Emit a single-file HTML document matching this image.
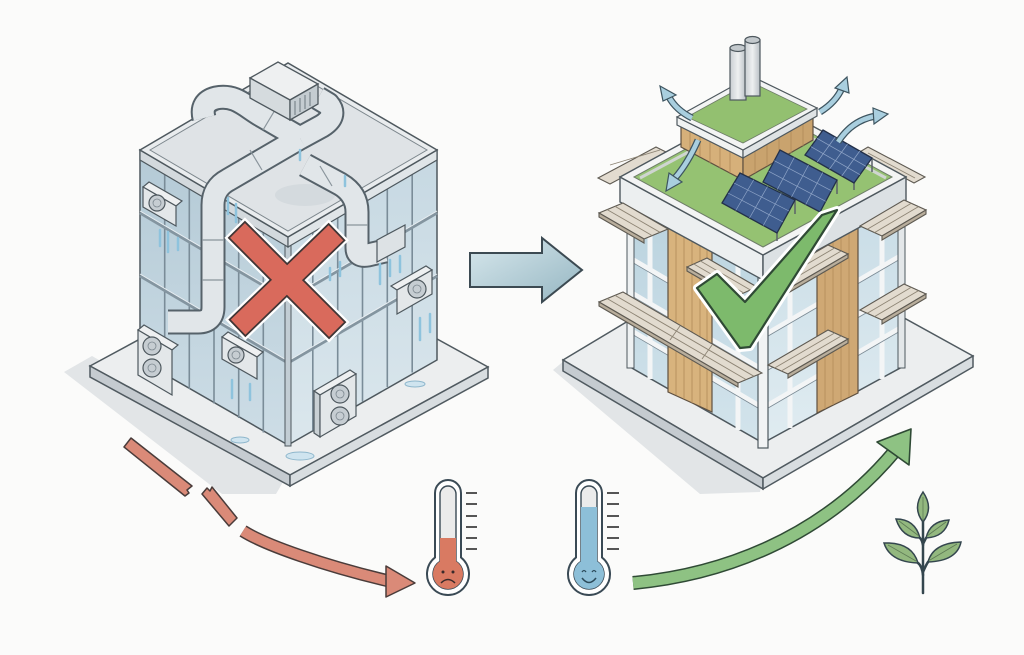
<!DOCTYPE html>
<html><head><meta charset="utf-8"><style>
html,body{margin:0;padding:0;background:#fbfbfa;}
svg{display:block;}
</style></head><body>
<svg width="1024" height="655" viewBox="0 0 1024 655" xmlns="http://www.w3.org/2000/svg">
<defs>
<linearGradient id="arrowG" x1="0" y1="0" x2="1" y2="1"><stop offset="0" stop-color="#d8e8ed"/><stop offset="1" stop-color="#95b6c2"/></linearGradient>
<linearGradient id="glL" x1="0" y1="0" x2="0" y2="1"><stop offset="0" stop-color="#b4cad6"/><stop offset="1" stop-color="#cddde6"/></linearGradient>
<linearGradient id="glR" x1="0" y1="0" x2="0" y2="1"><stop offset="0" stop-color="#c6d8e2"/><stop offset="1" stop-color="#dbe7ed"/></linearGradient>
<linearGradient id="gl2L" x1="0" y1="0" x2="0" y2="1"><stop offset="0" stop-color="#b9d2de"/><stop offset="1" stop-color="#d3e4ec"/></linearGradient>
<linearGradient id="gl2R" x1="0" y1="0" x2="0" y2="1"><stop offset="0" stop-color="#c8dce6"/><stop offset="1" stop-color="#e0ecf1"/></linearGradient>
<linearGradient id="cyl" x1="0" y1="0" x2="1" y2="0"><stop offset="0" stop-color="#c9ced2"/><stop offset=".5" stop-color="#eef0f1"/><stop offset="1" stop-color="#b9c0c5"/></linearGradient>
</defs>
<rect width="1024" height="655" fill="#fbfbfa"/>

<!-- ============ LEFT BUILDING ============ -->
<polygon points="64,372 92,356 290,470 276,494 222,494" fill="#e2e5e7"/>
<polygon points="90,366 290,258 488,367 290,475" fill="#eceeef" stroke="#505a60" stroke-width="1.5"/>
<polygon points="90,366 290,475 290,486 90,377" fill="#c5cbd0" stroke="#505a60" stroke-width="1.5"/>
<polygon points="290,475 488,367 488,378 290,486" fill="#d8dde0" stroke="#505a60" stroke-width="1.5"/>
<ellipse cx="300" cy="456" rx="14" ry="4" fill="#cfe4ef" stroke="#8fb7cc" stroke-width="1"/>
<ellipse cx="415" cy="384" rx="10" ry="3" fill="#cfe4ef" stroke="#8fb7cc" stroke-width="1"/>
<ellipse cx="240" cy="440" rx="9" ry="3" fill="#cfe4ef" stroke="#8fb7cc" stroke-width="1"/>

<polygon points="140,150 288,237 288,445 140,360" fill="url(#glL)" stroke="#4e585e" stroke-width="1.5"/>
<polygon points="288,237 437,150 437,360 288,445" fill="url(#glR)" stroke="#4e585e" stroke-width="1.5"/>
<g stroke="#7a8c98" stroke-width="1.6">
<line x1="164.7" y1="164.5" x2="164.7" y2="374.5"/><line x1="189.3" y1="179" x2="189.3" y2="389"/>
<line x1="214" y1="193.5" x2="214" y2="403.5"/><line x1="238.7" y1="208" x2="238.7" y2="418"/>
<line x1="263.3" y1="222.5" x2="263.3" y2="432.5"/>
<line x1="312.8" y1="222.5" x2="312.8" y2="430.5"/><line x1="337.7" y1="208" x2="337.7" y2="416"/>
<line x1="362.5" y1="193.5" x2="362.5" y2="401.5"/><line x1="387.3" y1="179" x2="387.3" y2="387"/>
<line x1="412.2" y1="164.5" x2="412.2" y2="372.5"/>
</g>
<g stroke="#8495a0" stroke-width="3">
<line x1="140" y1="213" x2="288" y2="300"/><line x1="140" y1="276" x2="288" y2="363"/>
<line x1="288" y1="300" x2="437" y2="213"/><line x1="288" y1="363" x2="437" y2="276"/>
</g>
<g stroke="#e8eef2" stroke-width="1">
<line x1="140" y1="211" x2="288" y2="298"/><line x1="140" y1="274" x2="288" y2="361"/>
<line x1="288" y1="298" x2="437" y2="211"/><line x1="288" y1="361" x2="437" y2="274"/>
</g>
<rect x="285" y="237" width="6" height="209" fill="#c2cdd4" stroke="#4e585e" stroke-width="1"/>
<polygon points="140,150 288,237 288,247 140,160" fill="#d3d9dd" stroke="#4e585e" stroke-width="1.2"/>
<polygon points="288,237 437,150 437,160 288,247" fill="#e0e5e8" stroke="#4e585e" stroke-width="1.2"/>
<polygon points="140,150 288,63 437,150 288,237" fill="#e9ecee" stroke="#4e585e" stroke-width="1.5"/>
<polygon points="150,150 288,69 427,150 288,231" fill="#dfe3e6" stroke="#7d878d" stroke-width="1"/>
<ellipse cx="305" cy="195" rx="30" ry="11" fill="#cdd4d8" opacity=".6"/>

<!-- ducts -->
<g fill="none" stroke-linejoin="round">
<g stroke="#56626a" stroke-width="25">
<path d="M300,138 L262,116 C246,107 236,94 216,98 Q200,102 204,118"/>
<path d="M300,138 L322,126 Q338,116 328,104 L318,98"/>
<path d="M168,322 L198,322 Q213,322 213,307 L213,205 Q213,188 228,180 L300,138"/>
<path d="M305,165 L340,184 Q357,194 357,212 L357,248 Q357,257 368,255 L385,251"/>
</g>
<g stroke="#e1e6e9" stroke-width="21">
<path d="M300,138 L262,116 C246,107 236,94 216,98 Q200,102 204,118"/>
<path d="M300,138 L322,126 Q338,116 328,104 L318,98"/>
<path d="M168,322 L198,322 Q213,322 213,307 L213,205 Q213,188 228,180 L300,138"/>
<path d="M305,165 L340,184 Q357,194 357,212 L357,248 Q357,257 368,255 L385,251"/>
</g>
</g>
<g stroke="#8a959c" stroke-width="1.2">
<line x1="202" y1="240" x2="224" y2="240"/><line x1="202" y1="280" x2="224" y2="280"/>
<line x1="346" y1="225" x2="368" y2="225"/><line x1="250" y1="150" x2="262" y2="170"/>
<line x1="275" y1="110" x2="263" y2="130"/><line x1="320" y1="166" x2="332" y2="186"/>
</g>
<polygon points="250,78 278,62 318,84 290,100" fill="#eef0f1" stroke="#4e585e" stroke-width="1.3"/>
<polygon points="250,78 290,100 290,120 250,98" fill="#d5dbde" stroke="#4e585e" stroke-width="1.3"/>
<polygon points="290,100 318,84 318,104 290,120" fill="#c4ccd1" stroke="#4e585e" stroke-width="1.3"/>
<g stroke="#6d787f" stroke-width="1"><line x1="295" y1="101" x2="295" y2="115"/><line x1="300" y1="98" x2="300" y2="112"/><line x1="305" y1="95" x2="305" y2="109"/><line x1="310" y1="92" x2="310" y2="106"/></g>
<polygon points="377,240 405,225 405,247 377,262" fill="#dde2e5" stroke="#4e585e" stroke-width="1.2"/>

<g stroke="#4e585e" stroke-width="1.2">
<polygon points="143,187 176,206 182,201 149,182" fill="#eef0f1"/>
<polygon points="143,187 176,206 176,226 143,207" fill="#e3e7e9"/>
<circle cx="157" cy="203" r="8" fill="#c6cdd2"/>
<polygon points="138,330 172,350 178,345 144,325" fill="#eef0f1"/>
<polygon points="138,330 172,350 172,395 138,375" fill="#e3e7e9"/>
<circle cx="152" cy="346" r="9" fill="#c6cdd2"/><circle cx="152" cy="368" r="9" fill="#c6cdd2"/>
<polygon points="222,337 257,357 263,352 228,332" fill="#eef0f1"/>
<polygon points="222,337 257,357 257,379 222,359" fill="#e3e7e9"/>
<circle cx="236" cy="355" r="8" fill="#c6cdd2"/>
<polygon points="397,290 432,270 426,266 391,286" fill="#eef0f1"/>
<polygon points="397,290 432,270 432,294 397,314" fill="#e3e7e9"/>
<circle cx="417" cy="289" r="9" fill="#c6cdd2"/>
<polygon points="320,395 356,374 350,370 314,391" fill="#eef0f1"/>
<polygon points="314,391 320,395 320,437 314,433" fill="#c9d0d4"/>
<polygon points="320,395 356,374 356,416 320,437" fill="#e3e7e9"/>
<circle cx="340" cy="394" r="9" fill="#c6cdd2"/><circle cx="340" cy="416" r="9" fill="#c6cdd2"/>
</g>
<g stroke="#7d8890" stroke-width="0.8" fill="none">
<circle cx="157" cy="203" r="4"/><circle cx="152" cy="346" r="4"/><circle cx="152" cy="368" r="4"/>
<circle cx="236" cy="355" r="4"/><circle cx="417" cy="289" r="4"/><circle cx="340" cy="394" r="4"/><circle cx="340" cy="416" r="4"/>
</g>
<g stroke="#8ec3dd" stroke-width="2.5" stroke-linecap="round">
<line x1="160" y1="230" x2="160" y2="246"/><line x1="168" y1="232" x2="168" y2="252"/><line x1="178" y1="238" x2="178" y2="250"/>
<line x1="228" y1="198" x2="228" y2="214"/><line x1="236" y1="204" x2="236" y2="222"/>
<line x1="380" y1="264" x2="380" y2="284"/><line x1="390" y1="260" x2="390" y2="276"/><line x1="400" y1="256" x2="400" y2="272"/>
<line x1="232" y1="380" x2="232" y2="398"/><line x1="250" y1="384" x2="250" y2="400"/>
<line x1="420" y1="318" x2="420" y2="340"/><line x1="430" y1="314" x2="430" y2="332"/>
<line x1="300" y1="150" x2="300" y2="160"/><line x1="345" y1="176" x2="345" y2="186"/>
<line x1="340" y1="262" x2="340" y2="276"/><line x1="330" y1="268" x2="330" y2="280"/>
</g>

<!-- red X -->
<g transform="translate(287,280)">
<g fill="none" stroke="#ffffff" stroke-width="8"><rect x="-70" y="-10.5" width="140" height="21" transform="rotate(45)"/><rect x="-68" y="-10.5" width="136" height="21" transform="rotate(-44)"/></g>
<g fill="none" stroke="#3f3535" stroke-width="3.5"><rect x="-70" y="-10.5" width="140" height="21" transform="rotate(45)"/><rect x="-68" y="-10.5" width="136" height="21" transform="rotate(-44)"/></g>
<g fill="#d96a5c"><rect x="-70" y="-10.5" width="140" height="21" transform="rotate(45)"/><rect x="-68" y="-10.5" width="136" height="21" transform="rotate(-44)"/></g>
</g>

<polygon points="470,253 542,253 542,238 582,270 542,302 542,287 470,287" fill="url(#arrowG)" stroke="#3c4a52" stroke-width="2"/>

<!-- ============ RIGHT BUILDING ============ -->
<polygon points="553,370 565,360 763,478 760,492 700,494" fill="#e2e5e7"/>
<polygon points="563,360 763,240 973,356 763,478" fill="#eceeef" stroke="#505a60" stroke-width="1.5"/>
<polygon points="563,360 763,478 763,489 563,371" fill="#c5cbd0" stroke="#505a60" stroke-width="1.5"/>
<polygon points="763,478 973,356 973,367 763,489" fill="#d8dde0" stroke="#505a60" stroke-width="1.5"/>

<polygon points="630,198 763,276 763,443 630,367" fill="url(#gl2L)" stroke="#4e585e" stroke-width="1.5"/>
<polygon points="763,276 902,198 902,367 763,443" fill="url(#gl2R)" stroke="#4e585e" stroke-width="1.5"/>
<g stroke="#f3f5f6" stroke-width="5">
<line x1="630" y1="258" x2="763" y2="336"/><line x1="630" y1="292" x2="763" y2="370"/><line x1="630" y1="330" x2="763" y2="408"/>
<line x1="763" y1="336" x2="902" y2="255"/><line x1="763" y1="370" x2="902" y2="289"/><line x1="763" y1="408" x2="902" y2="327"/>
<line x1="650" y1="210" x2="650" y2="379"/><line x1="738" y1="262" x2="738" y2="430"/>
<line x1="790" y1="262" x2="790" y2="428"/><line x1="882" y1="210" x2="882" y2="379"/>
</g>
<g stroke="#7b8a94" stroke-width="0.8">
<line x1="630" y1="261" x2="763" y2="339"/><line x1="630" y1="295" x2="763" y2="373"/><line x1="630" y1="333" x2="763" y2="411"/>
<line x1="763" y1="339" x2="902" y2="258"/><line x1="763" y1="373" x2="902" y2="292"/><line x1="763" y1="411" x2="902" y2="330"/>
</g>
<rect x="627" y="198" width="7" height="170" fill="#eef1f2" stroke="#4e585e" stroke-width="1"/>
<rect x="898" y="198" width="7" height="170" fill="#e3e7e9" stroke="#4e585e" stroke-width="1"/>
<rect x="758" y="272" width="10" height="176" fill="#f1f3f4" stroke="#4e585e" stroke-width="1.2"/>

<polygon points="668,222 712,247 712,412 668,392" fill="#d8b37d" stroke="#5f5040" stroke-width="1.2"/>
<polygon points="817,245 858,222 858,393 817,413" fill="#cfa874" stroke="#5f5040" stroke-width="1.2"/>
<g stroke="#b58f5c" stroke-width="0.9">
<line x1="676" y1="227" x2="676" y2="395"/><line x1="684" y1="231" x2="684" y2="399"/><line x1="692" y1="236" x2="692" y2="403"/><line x1="700" y1="240" x2="700" y2="406"/><line x1="707" y1="244" x2="707" y2="409"/>
<line x1="825" y1="240" x2="825" y2="409"/><line x1="833" y1="236" x2="833" y2="405"/><line x1="841" y1="231" x2="841" y2="401"/><line x1="849" y1="227" x2="849" y2="397"/>
</g>

<g stroke="#5e5a52" stroke-width="1.1">
<polygon points="598,178 656,147 668,153 610,184" fill="#e2dbcf"/>
<polygon points="868,147 925,177 914,183 858,153" fill="#e2dbcf"/>
</g>

<polygon points="620,177 763,255 763,280 620,202" fill="#eceff0" stroke="#4e585e" stroke-width="1.4"/>
<polygon points="763,255 906,177 906,202 763,280" fill="#dce1e4" stroke="#4e585e" stroke-width="1.4"/>
<polygon points="620,177 763,99 906,177 763,255" fill="#f3f4f4" stroke="#4e585e" stroke-width="1.4"/>
<polygon points="634,177 763,107 892,177 763,247" fill="#95c272" stroke="#6e7d68" stroke-width="1"/>
<polyline points="640,178 763,112 886,178" fill="none" stroke="#cfd5d0" stroke-width="3"/>

<g stroke="#5e5a52" stroke-width="1.1">
<polygon points="623,203 668,229 644,239 599,213" fill="#e2dbcf"/><polygon points="599,213 644,239 644,243 599,217" fill="#b9ae9c"/>
<polygon points="707,258 757,287 737,296 687,267" fill="#e2dbcf"/><polygon points="687,267 737,296 737,300 687,271" fill="#b9ae9c"/>
<polygon points="623,292 762,373 738,383 599,302" fill="#e2dbcf"/><polygon points="599,302 738,383 738,387 599,306" fill="#b9ae9c"/>
<polygon points="860,226 904,200 926,210 882,236" fill="#e2dbcf"/><polygon points="882,236 926,210 926,214 882,240" fill="#b9ae9c"/>
<polygon points="768,280 828,245 848,254 788,289" fill="#e2dbcf"/><polygon points="788,289 848,254 848,258 788,293" fill="#b9ae9c"/>
<polygon points="860,310 904,284 926,294 882,320" fill="#e2dbcf"/><polygon points="882,320 926,294 926,298 882,324" fill="#b9ae9c"/>
<polygon points="768,365 828,330 848,339 788,374" fill="#e2dbcf"/><polygon points="788,374 848,339 848,343 788,378" fill="#b9ae9c"/>
</g>
<g stroke="#8d8474" stroke-width="0.9">
<line x1="615" y1="206.3" x2="660" y2="232.3"/><line x1="607.2" y1="209.6" x2="652.2" y2="235.6"/>
<line x1="700.4" y1="261" x2="750.4" y2="290"/><line x1="693.8" y1="264" x2="743.8" y2="293"/>
<line x1="615" y1="295.3" x2="754" y2="376.3"/><line x1="607.2" y1="298.6" x2="746.2" y2="379.6"/>
<line x1="680" y1="326" x2="670" y2="340"/><line x1="712" y1="345" x2="702" y2="359"/>
<line x1="867.3" y1="229.3" x2="911.3" y2="203.3"/><line x1="874.5" y1="232.6" x2="918.5" y2="206.6"/>
<line x1="774.6" y1="283" x2="834.6" y2="248"/><line x1="781.2" y1="286" x2="841.2" y2="251"/>
<line x1="867.3" y1="313.3" x2="911.3" y2="287.3"/><line x1="874.5" y1="316.6" x2="918.5" y2="290.6"/>
<line x1="774.6" y1="368" x2="834.6" y2="333"/><line x1="781.2" y1="371" x2="841.2" y2="336"/>
<line x1="610" y1="165" x2="660" y2="150"/><line x1="868" y1="153" x2="915" y2="178"/>
</g>

<polygon points="681,124 743,157 743,180 681,147" fill="#d6b07a" stroke="#5f5040" stroke-width="1.2"/>
<polygon points="743,157 813,117 813,140 743,180" fill="#c9a36e" stroke="#5f5040" stroke-width="1.2"/>
<g stroke="#b08a58" stroke-width="0.8"><line x1="690" y1="129" x2="690" y2="152"/><line x1="700" y1="134" x2="700" y2="157"/><line x1="710" y1="140" x2="710" y2="163"/><line x1="720" y1="145" x2="720" y2="168"/><line x1="730" y1="150" x2="730" y2="173"/>
<line x1="755" y1="150" x2="755" y2="173"/><line x1="767" y1="143" x2="767" y2="166"/><line x1="779" y1="136" x2="779" y2="159"/><line x1="791" y1="130" x2="791" y2="153"/><line x1="803" y1="123" x2="803" y2="146"/></g>
<polygon points="677,117 743,150 743,158 677,125" fill="#f0f2f2" stroke="#4e585e" stroke-width="1.2"/>
<polygon points="743,150 817,108 817,116 743,158" fill="#dfe3e5" stroke="#4e585e" stroke-width="1.2"/>
<polygon points="677,117 751,76 817,108 743,150" fill="#f3f4f4" stroke="#4e585e" stroke-width="1.2"/>
<polygon points="687,117 751,82 807,109 743,143" fill="#93c070" stroke="#6e7d68" stroke-width="0.8"/>
<rect x="730" y="48" width="16" height="52" fill="url(#cyl)" stroke="#4e585e" stroke-width="1.2"/>
<ellipse cx="738" cy="48" rx="8" ry="3.5" fill="#c3c9cd" stroke="#4e585e" stroke-width="1.2"/>
<rect x="745" y="40" width="15" height="56" fill="url(#cyl)" stroke="#4e585e" stroke-width="1.2"/>
<ellipse cx="752.5" cy="40" rx="7.5" ry="3.5" fill="#c3c9cd" stroke="#4e585e" stroke-width="1.2"/>

<g stroke="#5a6268" stroke-width="1.5"><line x1="777" y1="233" x2="777" y2="241"/><line x1="795" y1="200" x2="795" y2="214"/><line x1="820" y1="212" x2="820" y2="220"/><line x1="837" y1="180" x2="837" y2="194"/><line x1="854" y1="183" x2="854" y2="190"/><line x1="872" y1="158" x2="872" y2="172"/></g>
<g stroke="#23304a" stroke-width="1.3" fill="#3f5d8f">
<polygon points="722,203 740,173 795,200 777,233"/>
<polygon points="763,182 780,150 837,180 820,212"/>
<polygon points="805,155 823,130 872,158 854,183"/>
</g>
<g stroke="#8fa5c8" stroke-width="0.7">
<line x1="735.75" y1="210.5" x2="753.75" y2="179.75"/><line x1="749.5" y1="218" x2="767.5" y2="186.5"/><line x1="763.25" y1="225.5" x2="781.25" y2="193.25"/>
<line x1="728" y1="193" x2="783" y2="222"/><line x1="734" y1="183" x2="789" y2="211"/>
<line x1="777.25" y1="189.5" x2="794.25" y2="157.5"/><line x1="791.5" y1="197" x2="808.5" y2="165"/><line x1="805.75" y1="204.5" x2="822.75" y2="172.5"/>
<line x1="768.7" y1="171.3" x2="825.7" y2="201.3"/><line x1="774.3" y1="160.7" x2="831.3" y2="190.7"/>
<line x1="817.25" y1="162" x2="835.25" y2="137"/><line x1="829.5" y1="169" x2="847.5" y2="144"/><line x1="841.75" y1="176" x2="859.75" y2="151"/>
<line x1="811" y1="146.7" x2="860" y2="174.7"/><line x1="817" y1="138.3" x2="866" y2="166.3"/>
</g>

<g fill="none" stroke-linecap="butt">
<g stroke="#3e5560" stroke-width="7">
<path d="M692,118 Q676,110 669,97"/><path d="M820,112 Q836,102 842,88"/><path d="M838,142 Q852,120 876,116"/><path d="M698,140 Q688,163 675,178"/>
</g>
<g stroke="#a9cfdf" stroke-width="4.5">
<path d="M692,118 Q676,110 669,97"/><path d="M820,112 Q836,102 842,88"/><path d="M838,142 Q852,120 876,116"/><path d="M698,140 Q688,163 675,178"/>
</g>
</g>
<g fill="#a9cfdf" stroke="#3e5560" stroke-width="1.2">
<polygon points="660,86 676,95 663,101"/>
<polygon points="847,77 849,93 835,88"/>
<polygon points="888,114 874,124 873,108"/>
<polygon points="666,191 669,173 682,182"/>
</g>

<polygon points="697,288 717,274 745,302 822,215 837,210 750,347 740,348" fill="none" stroke="#ffffff" stroke-width="8" stroke-linejoin="round"/>
<polygon points="697,288 717,274 745,302 822,215 837,210 750,347 740,348" fill="#7dba6c" stroke="#2f4a35" stroke-width="2.2" stroke-linejoin="round"/>

<!-- ============ BOTTOM ============ -->
<g fill="#da8a78" stroke="#4a3c3a" stroke-width="1.5" stroke-linejoin="round">
<polygon points="124,447 131,438 192,486 187,490 189,493 185,496"/>
<polygon points="202,494 207,488 210,491 212,487 237,518 229,526"/>
</g>
<path d="M243,531 C265,545 325,566 389,581" fill="none" stroke="#4a3c3a" stroke-width="13"/>
<path d="M243,531 C265,545 325,566 389,581" fill="none" stroke="#da8a78" stroke-width="10"/>
<polygon points="386,566 415,583 386,597" fill="#da8a78" stroke="#4a3c3a" stroke-width="1.5" stroke-linejoin="round"/>

<path d="M435,493 A13,13 0 0 1 461,493 L461,557.5 A21,21 0 1 1 435,557.5 Z" fill="#ffffff" stroke="#3a4a55" stroke-width="2"/>
<path d="M440,494 A8,8 0 0 1 456,494 L456,561.3 A15,15 0 1 1 440,561.3 Z" fill="#ebebeb" stroke="#3a4a55" stroke-width="1.4"/>
<path d="M440,538 L456,538 L456,561.3 A15,15 0 1 1 440,561.3 Z" fill="#d97a62"/>
<circle cx="443" cy="572" r="1.5" fill="#3a2a2a"/><circle cx="453" cy="572" r="1.5" fill="#3a2a2a"/>
<path d="M441,583 Q448,576 455,583" fill="none" stroke="#3a2a2a" stroke-width="1.5"/>
<g stroke="#555" stroke-width="2"><line x1="466" y1="493" x2="477" y2="493"/><line x1="466" y1="504" x2="477" y2="504"/><line x1="466" y1="516" x2="477" y2="516"/><line x1="466" y1="527" x2="477" y2="527"/><line x1="466" y1="538" x2="477" y2="538"/><line x1="466" y1="549" x2="477" y2="549"/></g>

<path d="M576,493 A13,13 0 0 1 602,493 L602,557.5 A21,21 0 1 1 576,557.5 Z" fill="#ffffff" stroke="#3a4a55" stroke-width="2"/>
<path d="M581,494 A8,8 0 0 1 597,494 L597,561.3 A15,15 0 1 1 581,561.3 Z" fill="#ebebeb" stroke="#3a4a55" stroke-width="1.4"/>
<path d="M581,507 L597,507 L597,561.3 A15,15 0 1 1 581,561.3 Z" fill="#8dbfd8"/>
<path d="M582,572 Q584,569 586,572 M592,572 Q594,569 596,572" fill="none" stroke="#2c4a5a" stroke-width="1.3"/>
<path d="M582,578 Q589,587 596,578" fill="none" stroke="#2c4a5a" stroke-width="1.5"/>
<g stroke="#555" stroke-width="2"><line x1="607" y1="493" x2="619" y2="493"/><line x1="607" y1="504" x2="619" y2="504"/><line x1="607" y1="516" x2="619" y2="516"/><line x1="607" y1="527" x2="619" y2="527"/><line x1="607" y1="538" x2="619" y2="538"/><line x1="607" y1="549" x2="619" y2="549"/></g>

<path d="M633,583 C720,575 820,540 894,452" fill="none" stroke="#2f4a35" stroke-width="14"/>
<path d="M633,583 C720,575 820,540 894,452" fill="none" stroke="#8ec283" stroke-width="11"/>
<polygon points="877,442 911,429 909,465" fill="#8ec283" stroke="#2f4a35" stroke-width="1.6" stroke-linejoin="round"/>

<g stroke="#34464e" stroke-width="2.5" fill="none" stroke-linecap="round">
<line x1="923" y1="593" x2="923" y2="505"/>
<path d="M923,575 Q922,566 918,563"/><path d="M923,572 Q926,565 928,562"/>
<path d="M923,545 Q922,540 920,538"/><path d="M923,544 Q925,540 926,538"/>
</g>
<g fill="#93b87f" stroke="#34464e" stroke-width="1.5">
<path d="M923,522 Q912,508 923,492 Q934,508 923,522 Z"/>
<path d="M920,538 Q902,538 896,519 Q915,519 920,538 Z"/>
<path d="M926,538 Q945,537 949,520 Q930,521 926,538 Z"/>
<path d="M918,563 Q890,562 884,543 Q912,542 918,563 Z"/>
<path d="M928,562 Q957,561 961,542 Q933,543 928,562 Z"/>
</g>
<g stroke="#5d7a55" stroke-width="0.8"><line x1="923" y1="520" x2="923" y2="497"/><line x1="919" y1="536" x2="899" y2="521"/><line x1="927" y1="536" x2="946" y2="522"/><line x1="916" y1="561" x2="888" y2="545"/><line x1="930" y1="560" x2="957" y2="544"/></g>
</svg>
</body></html>
